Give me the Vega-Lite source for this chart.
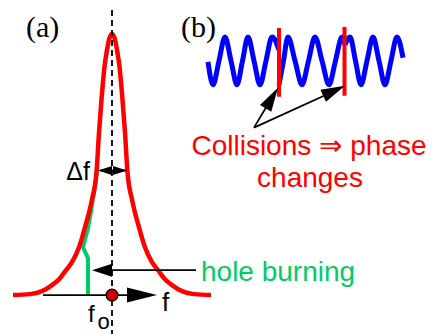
{
  "$schema": "https://vega.github.io/schema/vega-lite/v6.json",
  "width": 437,
  "height": 335,
  "autosize": {"type": "fit", "contains": "padding"},
  "padding": 0,
  "background": "white",
  "config": {"view": {"stroke": null}},
  "datasets": {
    "lorentz": [
      {"x": 13, "y": 296}, {"x": 30, "y": 295}, {"x": 42, "y": 292}, {"x": 52, "y": 286},
      {"x": 60, "y": 279}, {"x": 66, "y": 271}, {"x": 72, "y": 263}, {"x": 79, "y": 248},
      {"x": 85, "y": 228}, {"x": 92, "y": 200}, {"x": 96.5, "y": 173}, {"x": 99, "y": 133},
      {"x": 101.5, "y": 100}, {"x": 104.5, "y": 67}, {"x": 107, "y": 50}, {"x": 109.5, "y": 38},
      {"x": 112, "y": 34},
      {"x": 114.5, "y": 38}, {"x": 117, "y": 50}, {"x": 119.5, "y": 67}, {"x": 122.5, "y": 100},
      {"x": 125, "y": 133}, {"x": 127.5, "y": 173}, {"x": 132, "y": 200}, {"x": 139, "y": 228},
      {"x": 145, "y": 248}, {"x": 152, "y": 263}, {"x": 158, "y": 271}, {"x": 164, "y": 279},
      {"x": 172, "y": 286}, {"x": 182, "y": 292}, {"x": 194, "y": 295}, {"x": 211, "y": 296}
    ],
    "hole": [
      {"x": 97, "y": 172}, {"x": 94, "y": 193}, {"x": 91, "y": 212}, {"x": 88, "y": 229},
      {"x": 83, "y": 248}, {"x": 88, "y": 259}, {"x": 88, "y": 297}
    ],
    "wave": [
      {"seg": 1, "x": 208, "y": 62}, {"seg": 1, "x": 213, "y": 85}, {"seg": 1, "x": 219, "y": 61},
      {"seg": 1, "x": 225, "y": 37}, {"seg": 1, "x": 231, "y": 61}, {"seg": 1, "x": 237, "y": 85},
      {"seg": 1, "x": 242.5, "y": 61}, {"seg": 1, "x": 248, "y": 37}, {"seg": 1, "x": 254, "y": 61},
      {"seg": 1, "x": 260, "y": 85}, {"seg": 1, "x": 266, "y": 61}, {"seg": 1, "x": 272, "y": 37},
      {"seg": 1, "x": 279, "y": 50},
      {"seg": 2, "x": 279, "y": 85}, {"seg": 2, "x": 283.5, "y": 61}, {"seg": 2, "x": 288, "y": 37},
      {"seg": 2, "x": 295, "y": 61}, {"seg": 2, "x": 302, "y": 85}, {"seg": 2, "x": 308.5, "y": 61},
      {"seg": 2, "x": 315, "y": 37}, {"seg": 2, "x": 322, "y": 61}, {"seg": 2, "x": 329, "y": 85},
      {"seg": 2, "x": 335.5, "y": 61}, {"seg": 2, "x": 342, "y": 37}, {"seg": 2, "x": 345, "y": 45},
      {"seg": 3, "x": 345, "y": 45}, {"seg": 3, "x": 350, "y": 37}, {"seg": 3, "x": 355.5, "y": 61},
      {"seg": 3, "x": 361, "y": 85}, {"seg": 3, "x": 367, "y": 61}, {"seg": 3, "x": 373, "y": 37},
      {"seg": 3, "x": 379, "y": 61}, {"seg": 3, "x": 385, "y": 85}, {"seg": 3, "x": 391, "y": 61},
      {"seg": 3, "x": 397, "y": 37}, {"seg": 3, "x": 403, "y": 58}
    ],
    "dashed": [{"x": 112, "y": 10, "x2": 112, "y2": 335}],
    "collisions": [
      {"x": 279, "y": 28, "x2": 279, "y2": 97},
      {"x": 344.5, "y": 27, "x2": 344.5, "y2": 96}
    ],
    "shafts": [
      {"x": 100, "y": 171, "x2": 125, "y2": 171},
      {"x": 95, "y": 271, "x2": 196, "y2": 271},
      {"x": 43, "y": 296, "x2": 145, "y2": 296},
      {"x": 254, "y": 128, "x2": 273, "y2": 96},
      {"x": 254, "y": 128, "x2": 335, "y2": 91}
    ],
    "headsDf": [{"x": 105, "y": 171, "a": 180}, {"x": 120, "y": 171, "a": 0}],
    "headHole": [{"x": 102, "y": 271, "a": 180}],
    "headsB": [{"x": 271.8, "y": 98.3, "a": -59}, {"x": 334.1, "y": 91, "a": -24.8}],
    "headF": [{"x": 142, "y": 296, "a": 0}],
    "dot": [{"x": 112, "y": 296}],
    "serifLabels": [{"x": 26, "y": 37, "t": "(a)"}, {"x": 181, "y": 37, "t": "(b)"}],
    "dfLabel": [{"x": 90, "y": 181, "t": "Δf"}],
    "fLabel": [{"x": 162, "y": 312, "t": "f"}],
    "f0Label": [{"x": 88, "y": 323, "t": "f"}],
    "oLabel": [{"x": 97.5, "y": 330, "t": "o"}],
    "holeLabel": [{"x": 201, "y": 282, "t": "hole burning"}],
    "collLabel": [{"x": 309, "y": 155, "t": "Collisions ⇒ phase"}, {"x": 310, "y": 188, "t": "changes"}]
  },
  "encoding": {
    "x": {"field": "x", "type": "quantitative", "scale": {"domain": [0, 437], "nice": false, "zero": false}, "axis": null},
    "y": {"field": "y", "type": "quantitative", "scale": {"domain": [0, 335], "nice": false, "zero": false, "reverse": true}, "axis": null}
  },
  "layer": [
    {
      "data": {"name": "hole"},
      "mark": {"type": "line", "color": "#00cc66", "strokeWidth": 4, "interpolate": "linear"},
      "encoding": {"order": {"field": "y", "type": "quantitative"}}
    },
    {
      "data": {"name": "lorentz"},
      "mark": {"type": "line", "color": "#ff0000", "strokeWidth": 4.5, "interpolate": "monotone"},
      "encoding": {}
    },
    {
      "data": {"name": "wave"},
      "mark": {"type": "line", "color": "#0000ff", "strokeWidth": 5, "interpolate": "monotone"},
      "encoding": {"detail": {"field": "seg", "type": "nominal"}}
    },
    {
      "data": {"name": "dashed"},
      "mark": {"type": "rule", "color": "black", "strokeWidth": 1.8, "strokeDash": [6, 4]},
      "encoding": {"x2": {"field": "x2"}, "y2": {"field": "y2"}}
    },
    {
      "data": {"name": "collisions"},
      "mark": {"type": "rule", "color": "#ff0000", "strokeWidth": 4},
      "encoding": {"x2": {"field": "x2"}, "y2": {"field": "y2"}}
    },
    {
      "data": {"name": "shafts"},
      "mark": {"type": "rule", "color": "black", "strokeWidth": 1.8},
      "encoding": {"x2": {"field": "x2"}, "y2": {"field": "y2"}}
    },
    {
      "data": {"name": "headsDf"},
      "mark": {"type": "point", "shape": "M-1,-0.65L1,0L-1,0.65Z", "filled": true, "color": "black", "opacity": 1, "size": 196, "strokeWidth": 0},
      "encoding": {"angle": {"field": "a", "type": "quantitative", "scale": null}}
    },
    {
      "data": {"name": "headHole"},
      "mark": {"type": "point", "shape": "M-1,-0.65L1,0L-1,0.65Z", "filled": true, "color": "black", "opacity": 1, "size": 400, "strokeWidth": 0},
      "encoding": {"angle": {"field": "a", "type": "quantitative", "scale": null}}
    },
    {
      "data": {"name": "headsB"},
      "mark": {"type": "point", "shape": "M-1,-0.55L1,0L-1,0.55Z", "filled": true, "color": "black", "opacity": 1, "size": 576, "strokeWidth": 0},
      "encoding": {"angle": {"field": "a", "type": "quantitative", "scale": null}}
    },
    {
      "data": {"name": "headF"},
      "mark": {"type": "point", "shape": "M-1,-0.5L1,0L-1,0.5Z", "filled": true, "color": "black", "opacity": 1, "size": 900, "strokeWidth": 0},
      "encoding": {"angle": {"field": "a", "type": "quantitative", "scale": null}}
    },
    {
      "data": {"name": "dot"},
      "mark": {"type": "point", "shape": "circle", "filled": true, "fill": "#cc0000", "stroke": "black", "strokeWidth": 1.2, "opacity": 1, "size": 140},
      "encoding": {}
    },
    {
      "data": {"name": "serifLabels"},
      "mark": {"type": "text", "font": "Liberation Serif", "fontSize": 30, "align": "left", "baseline": "alphabetic", "color": "black"},
      "encoding": {"text": {"field": "t"}}
    },
    {
      "data": {"name": "dfLabel"},
      "mark": {"type": "text", "font": "Liberation Sans", "fontSize": 25, "align": "right", "baseline": "alphabetic", "color": "black"},
      "encoding": {"text": {"field": "t"}}
    },
    {
      "data": {"name": "fLabel"},
      "mark": {"type": "text", "font": "Liberation Sans", "fontSize": 26, "align": "left", "baseline": "alphabetic", "color": "black"},
      "encoding": {"text": {"field": "t"}}
    },
    {
      "data": {"name": "f0Label"},
      "mark": {"type": "text", "font": "Liberation Sans", "fontSize": 24, "align": "left", "baseline": "alphabetic", "color": "black"},
      "encoding": {"text": {"field": "t"}}
    },
    {
      "data": {"name": "oLabel"},
      "mark": {"type": "text", "font": "Liberation Sans", "fontSize": 22, "align": "left", "baseline": "alphabetic", "color": "black"},
      "encoding": {"text": {"field": "t"}}
    },
    {
      "data": {"name": "holeLabel"},
      "mark": {"type": "text", "font": "Liberation Sans", "fontSize": 28, "align": "left", "baseline": "alphabetic", "color": "#00cc66"},
      "encoding": {"text": {"field": "t"}}
    },
    {
      "data": {"name": "collLabel"},
      "mark": {"type": "text", "font": "Liberation Sans, DejaVu Sans", "fontSize": 28, "align": "center", "baseline": "alphabetic", "color": "#ff0000"},
      "encoding": {"text": {"field": "t"}}
    }
  ]
}
